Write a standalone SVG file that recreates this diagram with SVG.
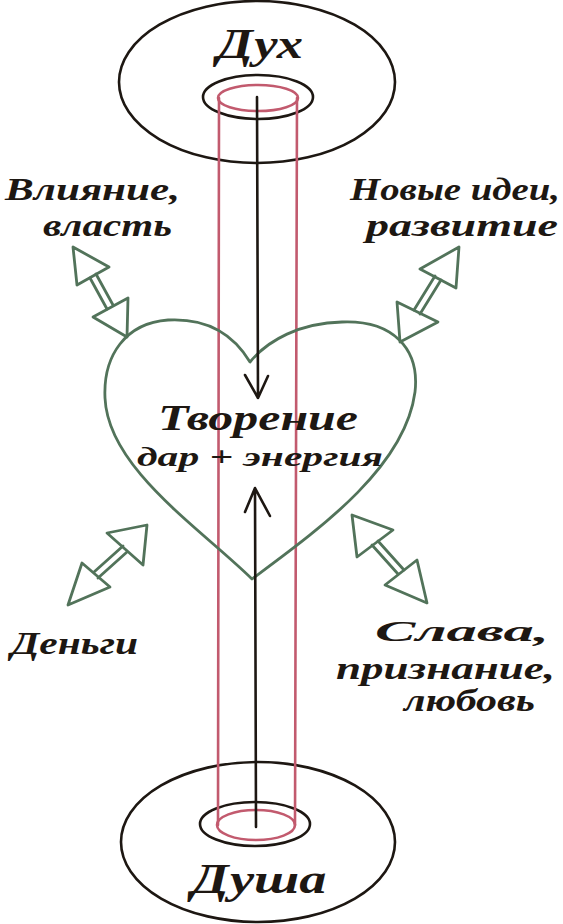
<svg xmlns="http://www.w3.org/2000/svg" width="563" height="924" viewBox="0 0 563 924">
<style>
.ink{fill:none;stroke:#1d1712;stroke-width:2.6;stroke-linecap:round;stroke-linejoin:round}
.pink{fill:none;stroke:#c25a6e;stroke-width:2.6;stroke-linecap:round}
.green{fill:none;stroke:#52735a;stroke-width:2.8;stroke-linejoin:round;stroke-linecap:round}
.t{font-family:"Liberation Serif","DejaVu Serif",serif;font-style:italic;font-weight:bold;fill:#1d1712}
</style>
<rect width="563" height="924" fill="#ffffff"/>
<g id="spirit">
<ellipse class="ink" cx="257" cy="82" rx="138" ry="81"/>
<ellipse class="ink" cx="258" cy="97" rx="55" ry="22"/>
<ellipse class="pink" cx="258" cy="98" rx="40" ry="13"/>
<text class="t" x="260" y="58" font-size="42" text-anchor="middle" textLength="86" lengthAdjust="spacingAndGlyphs">Дух</text>
</g>
<g id="soul">
<ellipse class="ink" cx="258" cy="842" rx="137" ry="80"/>
<ellipse class="ink" cx="255" cy="824" rx="55" ry="22"/>
<ellipse class="pink" cx="256" cy="825" rx="39" ry="15"/>
<text class="t" x="259" y="893" font-size="42" text-anchor="middle" textLength="135" lengthAdjust="spacingAndGlyphs">Душа</text>
</g>
<g id="tube">
<line class="pink" x1="219" y1="98" x2="218" y2="825"/>
<line class="pink" x1="297" y1="98" x2="295" y2="825"/>
</g>
<g id="heart">
<path class="green" d="M250 362 C232 332 205 318 168 320 C126 323 103 355 105 398 C108 468 200 528 252 579 C318 530 405 468 415 392 C420 348 392 320 342 322 C300 323 268 340 250 362 Z"/>
<text class="t" x="258" y="430" font-size="35" text-anchor="middle" textLength="200" lengthAdjust="spacingAndGlyphs">Творение</text>
<text class="t" x="260" y="466" font-size="28" text-anchor="middle" textLength="246" lengthAdjust="spacingAndGlyphs">дар + энергия</text>
</g>
<g id="label-influence">
<text class="t" x="5" y="200" font-size="31" textLength="175" lengthAdjust="spacingAndGlyphs">Влияние,</text>
<text class="t" x="43" y="236" font-size="31" textLength="129" lengthAdjust="spacingAndGlyphs">власть</text>
</g>
<g id="label-ideas">
<text class="t" x="350" y="200" font-size="31" textLength="210" lengthAdjust="spacingAndGlyphs">Новые идеи,</text>
<text class="t" x="366" y="236" font-size="31" textLength="192" lengthAdjust="spacingAndGlyphs">развитие</text>
</g>
<g id="label-money">
<text class="t" x="11" y="654" font-size="31" textLength="127" lengthAdjust="spacingAndGlyphs">Деньги</text>
</g>
<g id="label-fame">
<text class="t" x="375" y="641" font-size="30" textLength="174" lengthAdjust="spacingAndGlyphs">Слава,</text>
<text class="t" x="336" y="679" font-size="31" textLength="219" lengthAdjust="spacingAndGlyphs">признание,</text>
<text class="t" x="404" y="711" font-size="31" textLength="131" lengthAdjust="spacingAndGlyphs">любовь</text>
</g>
<g id="connectors">
<path class="ink" d="M257 97 L258 398 M245 375 L258 398 L268 376"/>
<path class="ink" d="M256 827 L255 488 M245 512 L255 488 L270 516"/>
<g id="arrow-tl">
<polygon class="green" points="73,247 109,267 77,285"/>
<polygon class="green" points="93,317 128,298 127,337"/>
<path class="green" d="M90 278 L107 309 M96 274 L113 305"/>
</g>
<g id="arrow-tr">
<polygon class="green" points="459,247 420,269 456,288"/>
<polygon class="green" points="397,302 438,322 400,342"/>
<path class="green" d="M435 276 L414 310 M441 280 L420 314"/>
</g>
<g id="arrow-bl">
<polygon class="green" points="147,525 107,533 143,565"/>
<polygon class="green" points="82,563 110,587 68,605"/>
<path class="green" d="M123 546 L94 572 M127 552 L98 578"/>
</g>
<g id="arrow-br">
<polygon class="green" points="352,515 393,530 357,557"/>
<polygon class="green" points="385,585 417,560 427,603"/>
<path class="green" d="M372 545 L398 574 M378 541 L404 570"/>
</g>
</g>
</svg>
